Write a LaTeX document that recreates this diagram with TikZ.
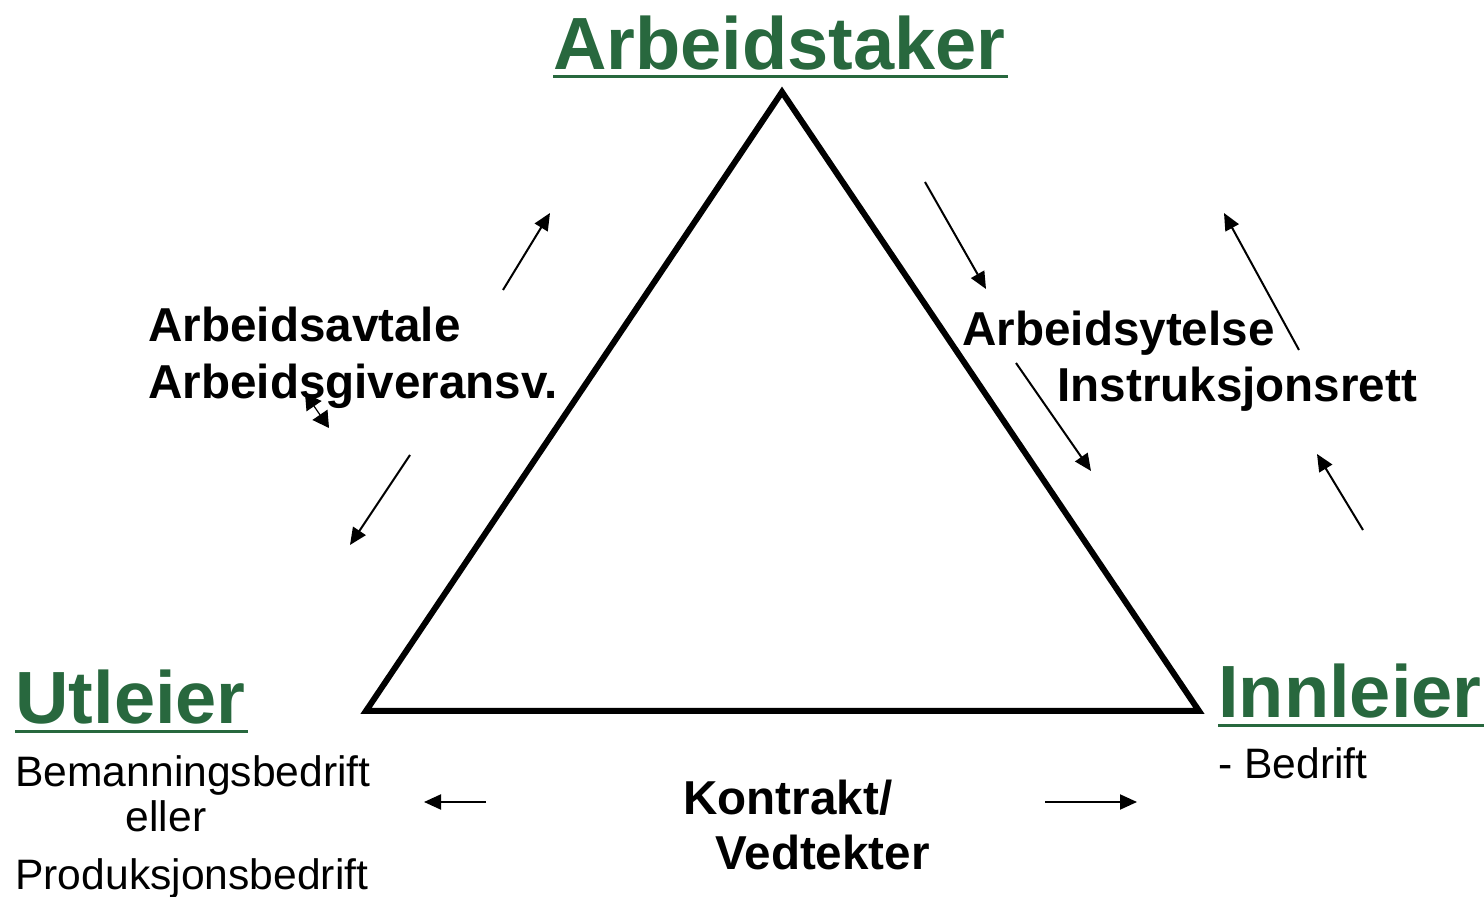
\documentclass[tikz,border=0pt]{standalone}
\usepackage{fontspec}
\setmainfont{Liberation Sans}
\usepackage{tikz}
\usetikzlibrary{positioning,calc,arrows.meta}
\definecolor{titlegreen}{RGB}{40,104,62}

\begin{document}
\begin{tikzpicture}[
    x=0.5pt, y=-0.5pt,
    party/.style={font=\fontsize{37}{40}\selectfont\bfseries, text=titlegreen, inner sep=0pt, anchor=base west},
    uline/.style={draw=titlegreen, line width=1.5pt},
    label/.style={font=\fontsize{23.8}{26}\selectfont\bfseries, inner sep=0pt, anchor=base west},
    sub/.style={font=\fontsize{21.3}{24}\selectfont, inner sep=0pt, anchor=base west},
    flow/.style={draw, line width=1pt, -{Triangle[length=8.5pt, width=7.5pt]}}
]
\useasboundingbox (0,0) rectangle (1484,897);

% Triangle
\coordinate (top) at (782,92);
\coordinate (left) at (366,711);
\coordinate (right) at (1199,711);
\draw[line width=3pt, line join=miter] (top) -- (left) -- (right) -- cycle;

% Parties
\node[party] (arbeidstaker) at (553,70) {Arbeidstaker};
\node[party] (utleier) at (15,724) {Utleier};
\node[party] (innleier) at (1218,718) {Innleier};
\draw[uline] ($(arbeidstaker.base west)+(0,7)$) -- ($(arbeidstaker.base east)+(2,7)$);
\draw[uline] ($(utleier.base west)+(0,8)$) -- ($(utleier.base east)+(2,8)$);
\draw[uline] ($(innleier.base west)+(0,8)$) -- ($(innleier.base east)+(2,8)$);

% Sub texts
\node[sub] (bedrift) at (1218,778) {- Bedrift};
\node[sub] (bemanning) at (15,787) {Bemanningsbedrift};
\node[sub, anchor=base] (eller) at (166,832) {eller};
\node[sub] (produksjon) at (15,889) {Produksjonsbedrift};

% Relation labels
\node[label] (avtale) at (148,342) {Arbeidsavtale};
\node[label] (ansvar) at (148,399) {Arbeidsgiveransv.};
\node[label] (ytelse) at (962,346) {Arbeidsytelse};
\node[label] (instruks) at (1057,402) {Instruksjonsrett};
\node[label] (kontrakt) at (683,814) {Kontrakt/};
\node[label] (vedtekter) at (715,870) {Vedtekter};

% Arrows
\coordinate (a1s) at (503,290);  \coordinate (a1e) at (550,213);
\coordinate (a2s) at (410,455);  \coordinate (a2e) at (350,545);
\coordinate (a3s) at (925,182);  \coordinate (a3e) at (986,289);
\coordinate (a4s) at (1016,363); \coordinate (a4e) at (1091,471);
\coordinate (a5s) at (1299,350); \coordinate (a5e) at (1224,213);
\coordinate (a6s) at (1363,530); \coordinate (a6e) at (1317,454);
\coordinate (a7s) at (486,802);  \coordinate (a7e) at (424,802);
\coordinate (a8s) at (1045,802); \coordinate (a8e) at (1137,802);
\foreach \i in {1,...,8}
    \draw[flow] (a\i s) -- (a\i e);

% Stray arrow under Arbeidsgiveransv.
\coordinate (a9s) at (305,393);  \coordinate (a9e) at (329,428);
\draw[line width=0.6pt, {Triangle[length=8pt, width=9pt]}-{Triangle[length=8pt, width=9pt]}] (a9s) -- (a9e);

\end{tikzpicture}
\end{document}
